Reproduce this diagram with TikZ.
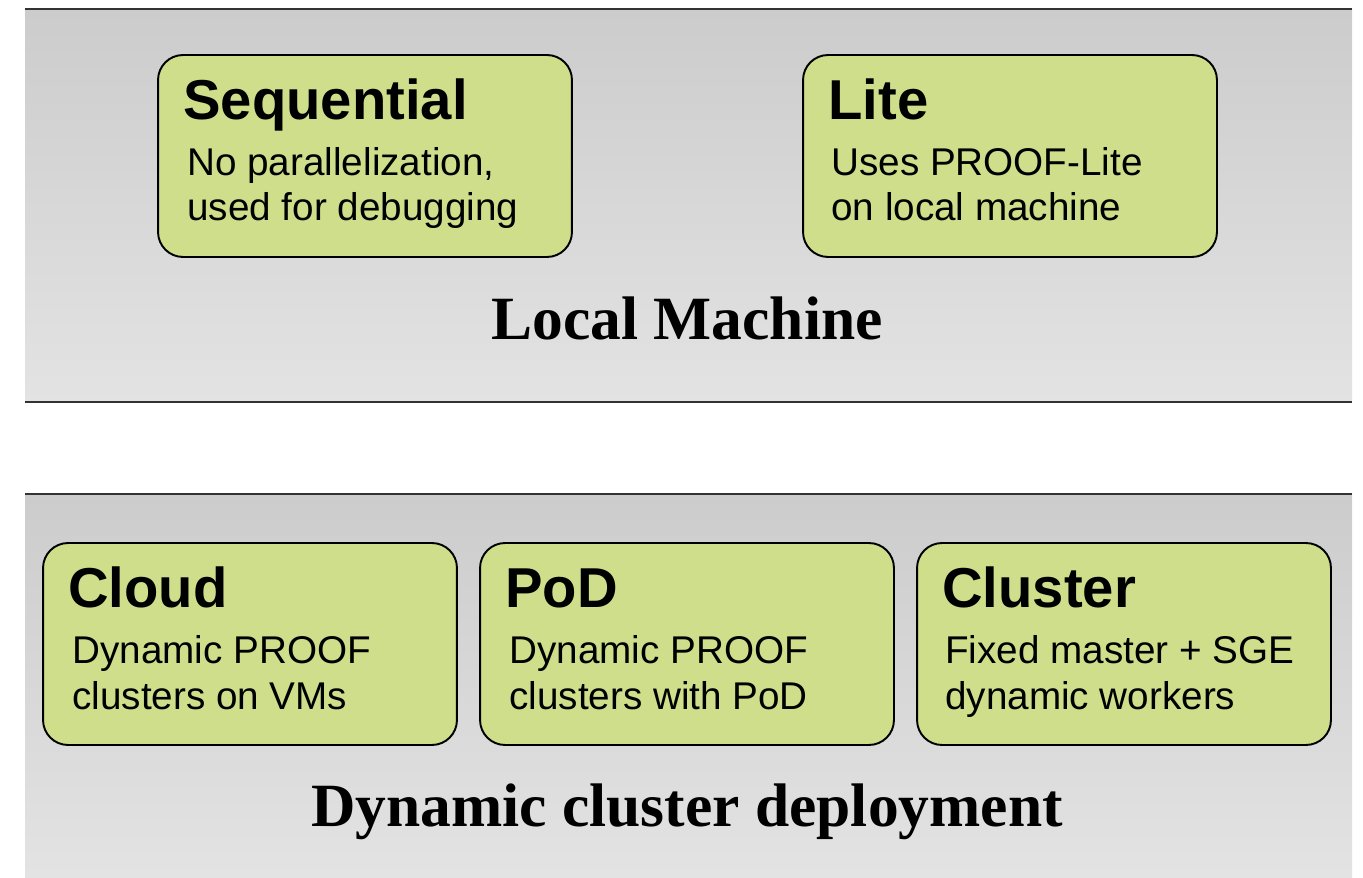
\documentclass[tikz,border=0pt]{standalone}
\usepackage{fontspec}
\setmainfont{Liberation Serif}
\setsansfont{Liberation Sans}
\usetikzlibrary{positioning}

\definecolor{bandtop}{RGB}{204,204,204}
\definecolor{bandbot}{RGB}{227,227,227}
\definecolor{modegreen}{RGB}{207,222,138}
\definecolor{bandline}{RGB}{51,51,51}

\begin{document}
\begin{tikzpicture}[x=0.02cm,y=-0.02cm,
	mode/.style={draw=black,line width=1.1pt,fill=modegreen,rounded corners=0.5cm,
		minimum width=8.28cm,minimum height=4.04cm,inner sep=0pt},
	mode title/.style={anchor=base west,inner sep=0pt,font=\sffamily\bfseries\fontsize{32pt}{36pt}\selectfont},
	mode text/.style={anchor=base west,inner sep=0pt,align=left,font=\sffamily\fontsize{22pt}{26pt}\selectfont},
	band label/.style={anchor=base,inner sep=0pt,font=\rmfamily\bfseries\fontsize{35pt}{40pt}\selectfont}]
	
	\useasboundingbox (0,0) rectangle (1363,878);
	
	% bands
	\shade[top color=bandtop,bottom color=bandbot] (25,9) rectangle (1352,402);
	\shade[top color=bandtop,bottom color=bandbot] (25,494) rectangle (1352,878);
	\draw[bandline,line width=1.6pt] (25,9) -- (1352,9);
	\draw[bandline,line width=1.6pt] (25,402) -- (1352,402);
	\draw[bandline,line width=1.6pt] (25,494) -- (1352,494);
	
	% local machine
	\node[mode] (seq) at (365,156) {};
	\node[mode] (lite) at (1010,156) {};
	\node[mode title] (seqT) at (183,120) {Sequential};
	\node[mode text] (seqD) at (187,221) {No parallelization,\\used for debugging};
	\node[mode title] (liteT) at (828,120) {Lite};
	\node[mode text] (liteD) at (831,221) {Uses PROOF-Lite\\on local machine};
	\node[band label] (local) at (687,340) {Local Machine};
	
	% dynamic cluster deployment
	\node[mode] (cloud) at (250,644) {};
	\node[mode] (pod) at (687,644) {};
	\node[mode] (cluster) at (1124,644) {};
	\node[mode title] (cloudT) at (68,607) {Cloud};
	\node[mode text] (cloudD) at (72,709) {Dynamic PROOF\\clusters on VMs};
	\node[mode title] (podT) at (505,607) {PoD};
	\node[mode text] (podD) at (509,709) {Dynamic PROOF\\clusters with PoD};
	\node[mode title] (clusterT) at (942,607) {Cluster};
	\node[mode text] (clusterD) at (945,709) {Fixed master + SGE\\dynamic workers};
	\node[band label] (dyn) at (687,826) {Dynamic cluster deployment};
\end{tikzpicture}
\end{document}
